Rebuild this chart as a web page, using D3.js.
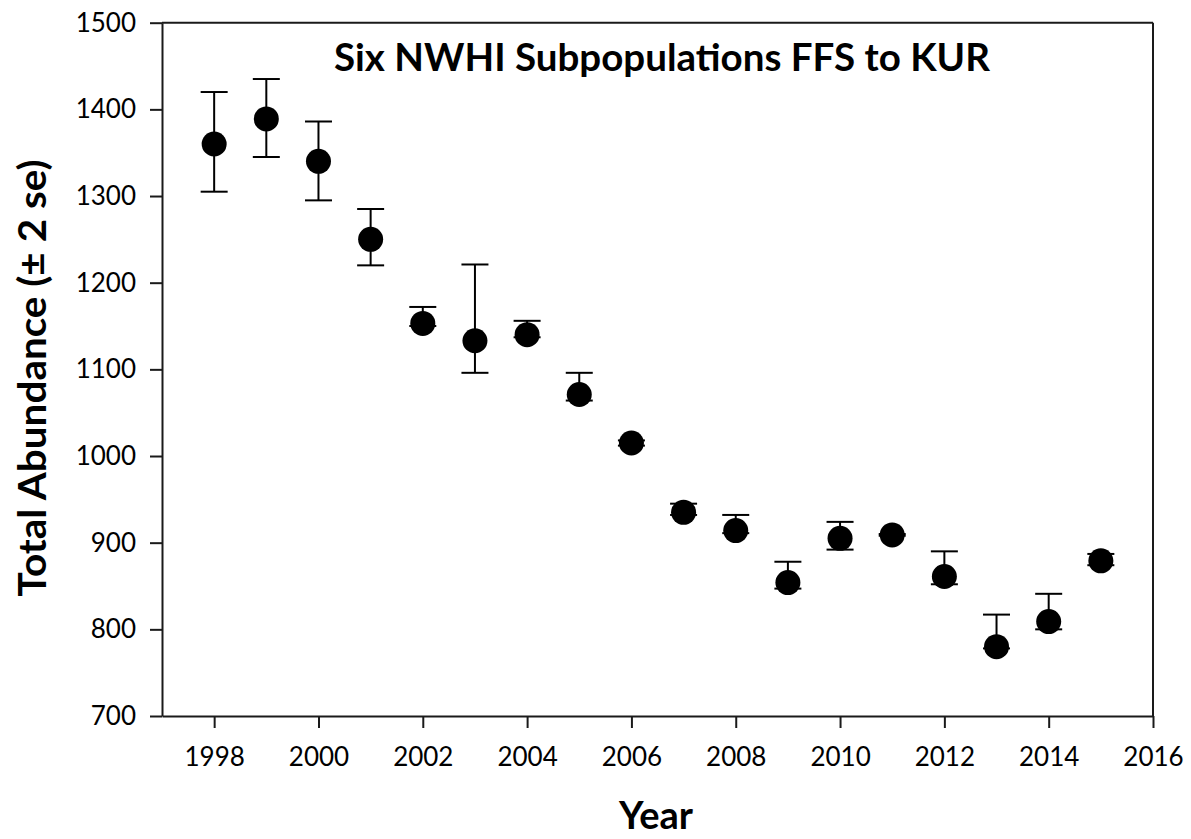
<!DOCTYPE html>
<html>
<head>
<meta charset="utf-8">
<script src="https://cdn.jsdelivr.net/npm/d3@7"></script>
<style>
  html, body { margin: 0; padding: 0; background: #fff; }
  svg { display: block; }
  .tick text { font-family: Lato, "Open Sans", sans-serif; font-size: 26px; fill: #000; }
</style>
</head>
<body>
<svg id="chart" width="1191" height="839"></svg>
<script>
// Survey years and total abundance estimates with ±2 SE bounds
const years = [1998, 1999, 2000, 2001, 2002, 2003, 2004, 2005, 2006, 2007, 2008, 2009, 2010, 2011, 2012, 2013, 2014, 2015];
const abundance = [1360, 1389, 1340, 1250, 1153, 1133, 1140, 1071, 1015, 935, 914, 854, 905, 909, 861, 780, 809, 879];
const upper = [1420, 1435, 1386, 1285, 1172, 1221, 1156, 1096, 1018, 945, 932, 878, 924, 910, 890, 817, 841, 887];
const lower = [1305, 1345, 1295, 1220, 1150, 1096, 1137, 1064, 1012, 932, 911, 847, 892, 908, 852, 778, 800, 874];

const yTicks = [700, 800, 900, 1000, 1100, 1200, 1300, 1400, 1500];
const xTicks = [1998, 2000, 2002, 2004, 2006, 2008, 2010, 2012, 2014, 2016];

const titleText = "Six NWHI Subpopulations FFS to KUR";
const yLabel = "Total Abundance (\u00B1 2 se)";
const xLabel = "Year";

const svg = d3.select("#chart");
const plotLeft = 162, plotRight = 1153, plotTop = 22.7, plotBottom = 716;

const x = d3.scaleLinear().domain([1997, 2016]).range([plotLeft, plotRight]);
const y = d3.scaleLinear().domain([700, 1500]).range([plotBottom, plotTop]);

const axisColor = "#1a1a1a";

// frame: top and right edges
svg.append("line")
  .attr("x1", x(1997)).attr("x2", x(2016))
  .attr("y1", y(1500)).attr("y2", y(1500))
  .attr("stroke", axisColor).attr("stroke-width", 2);
svg.append("line")
  .attr("x1", x(2016)).attr("x2", x(2016))
  .attr("y1", y(1500)).attr("y2", y(700))
  .attr("stroke", axisColor).attr("stroke-width", 2);

// y axis
const gy = svg.append("g")
  .attr("transform", `translate(${plotLeft},0)`)
  .call(d3.axisLeft(y).tickValues(yTicks).tickSize(12).tickSizeOuter(0).tickPadding(14).tickFormat(d3.format("d")));
gy.select(".domain").attr("stroke", axisColor).attr("stroke-width", 2);
gy.selectAll(".tick line").attr("stroke", axisColor).attr("stroke-width", 2);

// x axis
const gx = svg.append("g")
  .attr("transform", `translate(0,${plotBottom})`)
  .call(d3.axisBottom(x).tickValues(xTicks).tickSize(12).tickSizeOuter(0).tickPadding(20).tickFormat(d3.format("d")));
gx.select(".domain").attr("stroke", axisColor).attr("stroke-width", 2);
gx.selectAll(".tick line").attr("stroke", axisColor).attr("stroke-width", 2);

// error bars
const capHalf = 13.5;
const rows = years.map((yr, i) => ({ yr, v: abundance[i], hi: upper[i], lo: lower[i] }));
const bars = svg.append("g").attr("stroke", "#000").attr("stroke-width", 2);
bars.selectAll("line.stem").data(rows).join("line")
  .attr("class", "stem")
  .attr("x1", d => x(d.yr)).attr("x2", d => x(d.yr))
  .attr("y1", d => y(d.hi)).attr("y2", d => y(d.lo));
bars.selectAll("line.capHi").data(rows).join("line")
  .attr("class", "capHi")
  .attr("x1", d => x(d.yr) - capHalf).attr("x2", d => x(d.yr) + capHalf)
  .attr("y1", d => y(d.hi)).attr("y2", d => y(d.hi));
bars.selectAll("line.capLo").data(rows).join("line")
  .attr("class", "capLo")
  .attr("x1", d => x(d.yr) - capHalf).attr("x2", d => x(d.yr) + capHalf)
  .attr("y1", d => y(d.lo)).attr("y2", d => y(d.lo));

// points
svg.append("g").selectAll("circle").data(rows).join("circle")
  .attr("cx", d => x(d.yr)).attr("cy", d => y(d.v))
  .attr("r", 12.5).attr("fill", "#000");

// titles
svg.append("text")
  .attr("x", 662).attr("y", 71)
  .attr("text-anchor", "middle")
  .attr("font-family", "Lato, 'Open Sans', sans-serif")
  .attr("font-weight", "bold").attr("font-size", 38)
  .attr("textLength", 656).attr("lengthAdjust", "spacingAndGlyphs")
  .text(titleText);

svg.append("text")
  .attr("transform", "translate(46,378) rotate(-90)")
  .attr("text-anchor", "middle")
  .attr("font-family", "Lato, 'Open Sans', sans-serif")
  .attr("font-weight", "bold").attr("font-size", 39)
  .attr("textLength", 437).attr("lengthAdjust", "spacingAndGlyphs")
  .text(yLabel);

svg.append("text")
  .attr("x", 656).attr("y", 829)
  .attr("text-anchor", "middle")
  .attr("font-family", "Lato, 'Open Sans', sans-serif")
  .attr("font-weight", "bold").attr("font-size", 38)
  .text(xLabel);
</script>
</body>
</html>
